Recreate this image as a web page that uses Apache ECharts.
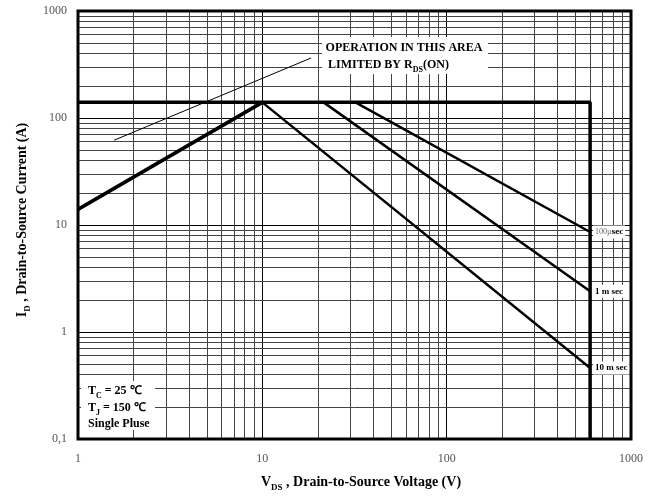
<!DOCTYPE html>
<html><head><meta charset="utf-8">
<script src="https://cdn.jsdelivr.net/npm/echarts@6/dist/echarts.min.js"></script>
<style>html,body{margin:0;padding:0;background:#fff}#c{width:657px;height:497px}</style>
</head><body><div id="c"></div>
<script>
// ---- data ----
const yTickLabels = ['0,1', '1', '10', '100', '1000'];   // 10^-1 .. 10^3
const xTickLabels = ['1', '10', '100', '1000'];          // 10^0 .. 10^3
const xMinor = [2,3,4,5,6,7,8,9,20,30,40,50,60,70,80,90,200,300,400,500,600,700,800,900];
const yMinor = [0.2,0.3,0.4,0.5,0.6,0.7,0.8,0.9,2,3,4,5,6,7,8,9,20,30,40,50,60,70,80,90,200,300,400,500,600,700,800,900];
const dcV = [1, 600, 600];      const dcI = [140, 140, 0.1];
const rdsV = [1, 10];           const rdsI = [14, 140];
const t10msV = [10, 600];       const t10msI = [140, 0.46];
const t1msV = [21.5, 600];      const t1msI = [140, 2.4];
const t100usV = [32, 600];      const t100usI = [140, 8.6];
const noteV = [1.57, 18.4];     const noteI = [62, 364];

const zip = (a, b) => a.map((v, i) => [v, b[i]]);
const FF = '"Liberation Serif", "Times New Roman", serif';
const chart = echarts.init(document.getElementById('c'));

const lineS = (name, v, i, w, extra) => Object.assign({
  name, type: 'line', data: zip(v, i), symbol: 'none', silent: true, animation: false,
  lineStyle: { color: '#000', width: w }, z: 5
}, extra || {});

const endLbl = (fmt, rich) => ({
  endLabel: { show: true, formatter: fmt, distance: 3, backgroundColor: '#fff', padding: [2, 2],
    fontFamily: FF, fontSize: 9, fontWeight: 'bold', color: '#000', rich: rich || {} }
});

const subRich = (size, subSize, lh, subLh) => ({
  m: { fontFamily: FF, fontSize: size, fontWeight: 'bold', color: '#000', lineHeight: lh, verticalAlign: 'middle' },
  s: { fontFamily: FF, fontSize: subSize, fontWeight: 'bold', color: '#000', lineHeight: subLh, verticalAlign: 'bottom' }
});

chart.setOption({
  backgroundColor: '#fff',
  animation: false,
  grid: { left: 78, right: 26, top: 11, bottom: 58, show: true, borderColor: '#000', borderWidth: 3, z: 10 },
  xAxis: {
    type: 'log', logBase: 10, min: 1, max: 1000,
    axisLine: { show: false }, axisTick: { show: false },
    splitLine: { show: true, lineStyle: { color: '#000', width: 1 } },
    axisLabel: { margin: 14, color: '#555', fontFamily: FF, fontSize: 12,
      formatter: v => xTickLabels[Math.round(Math.log10(v))] }
  },
  yAxis: {
    type: 'log', logBase: 10, min: 0.1, max: 1000,
    axisLine: { show: false }, axisTick: { show: false },
    splitLine: { show: true, lineStyle: { color: '#000', width: 1 } },
    axisLabel: { margin: 11, color: '#555', fontFamily: FF, fontSize: 12,
      formatter: v => yTickLabels[Math.round(Math.log10(v)) + 1] }
  },
  series: [
    { type: 'line', data: [], silent: true, z: 1,
      markLine: { silent: true, symbol: 'none', animation: false, label: { show: false },
        lineStyle: { color: '#444', width: 1, type: 'solid' },
        data: xMinor.map(v => ({ xAxis: v })).concat(yMinor.map(v => ({ yAxis: v }))) } },
    lineS('note', noteV, noteI, 1),
    lineS('dc', dcV, dcI, 3.5),
    lineS('rds', rdsV, rdsI, 3.5),
    lineS('10ms', t10msV, t10msI, 2.5, endLbl('10 m sec')),
    lineS('1ms', t1msV, t1msI, 2.5, endLbl('1 m sec')),
    lineS('100us', t100usV, t100usI, 2.5, endLbl('{g|100µ}{b|sec}', {
      g: { color: '#666', fontSize: 8, fontWeight: 'normal', fontFamily: FF },
      b: { color: '#000', fontSize: 9, fontWeight: 'bold', fontFamily: FF } }))
  ],
  graphic: [
    { type: 'rect', z: 100, shape: { x: 322, y: 37, width: 166, height: 37 }, style: { fill: '#fff' } },
    { type: 'text', z: 101, x: 404, y: 48, style: { text: 'OPERATION IN THIS AREA', fill: '#000',
      font: 'bold 12px ' + FF, align: 'center', verticalAlign: 'middle' } },
    { type: 'text', z: 101, x: 328, y: 65, style: {
      text: '{m|LIMITED BY R}{s|DS}{m|(ON)}', align: 'left', verticalAlign: 'middle',
      rich: subRich(12, 8, 16, 17.5) } },
    { type: 'rect', z: 100, shape: { x: 81, y: 381, width: 74, height: 49 }, style: { fill: '#fff' } },
    { type: 'text', z: 101, x: 88, y: 391, style: {
      text: '{m|T}{s|C}{m| = 25 ℃}', verticalAlign: 'middle', rich: subRich(12, 8, 16, 17.5) } },
    { type: 'text', z: 101, x: 88, y: 408, style: {
      text: '{m|T}{s|J}{m| = 150 ℃}', verticalAlign: 'middle', rich: subRich(12, 8, 16, 17.5) } },
    { type: 'text', z: 101, x: 88, y: 424, style: { text: 'Single Pluse', fill: '#000',
      font: 'bold 12px ' + FF, verticalAlign: 'middle' } },
    { type: 'text', z: 101, x: 361, y: 482, style: {
      text: '{m|V}{s|DS}{m| , Drain-to-Source Voltage (V)}', align: 'center', verticalAlign: 'middle',
      rich: subRich(14, 9, 18, 20) } },
    { type: 'text', z: 101, x: 22, y: 220, rotation: Math.PI / 2, style: {
      text: '{m|I}{s|D}{m| , Drain-to-Source Current (A)}', align: 'center', verticalAlign: 'middle',
      rich: subRich(14, 9, 18, 20) } }
  ]
});
</script></body></html>
